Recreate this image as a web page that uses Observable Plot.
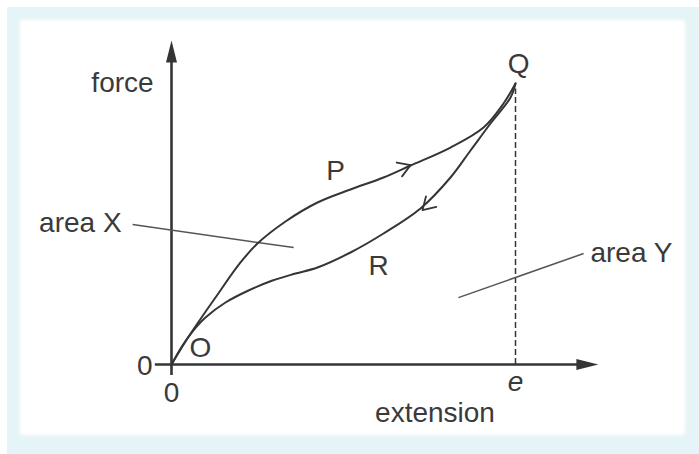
<!DOCTYPE html>
<html>
<head>
<meta charset="utf-8">
<script src="https://cdn.jsdelivr.net/npm/d3@7"></script>
<script src="https://cdn.jsdelivr.net/npm/@observablehq/plot@0.6"></script>
<style>
  html, body { margin: 0; padding: 0; background: #ffffff; }
  #frame { position: absolute; left: 7px; top: 7px; width: 692px; height: 447px; background: #e5f4f6; }
  #panel { position: absolute; left: 22px; top: 22px; width: 661px; height: 411px; background: #ffffff; box-shadow: 0 0 4px 2px #ffffff; }
  #chart { position: absolute; left: 0; top: 0; }
  #chart svg { overflow: visible; }
</style>
</head>
<body>
<div id="frame"></div>
<div id="panel"></div>
<div id="chart"></div>
<script>
// Loading curve O -> P -> Q (extension, force; Q = (100, 100))
const loadX = [0, 4.07, 8.14, 12.79, 20.06, 25.0, 33.14, 42.44, 52.03, 61.63, 69.48, 81.1, 90.7, 96.51, 100];
const loadF = [0, 8.19, 15.66, 23.84, 36.3, 43.06, 50.89, 57.65, 62.28, 66.55, 70.82, 77.22, 84.34, 92.88, 100];
// Unloading curve Q -> R -> O
const unloadX = [100, 98.55, 92.73, 86.92, 81.1, 72.38, 61.63, 52.03, 42.44, 36.05, 29.36, 22.38, 15.7, 9.88, 6.1, 3.2, 0];
const unloadF = [100, 95.02, 85.77, 76.16, 66.55, 55.52, 46.62, 39.86, 34.52, 32.38, 29.89, 26.33, 22.06, 16.73, 11.74, 6.76, 0];
// Text labels
const axisLabels = ["force", "extension"];
const tickLabels = ["0", "0", "e"];
const pointLabels = ["O", "P", "Q", "R"];
const areaLabels = ["area X", "area Y"];

const loading = loadX.map((x, i) => ({x, f: loadF[i]}));
const unloading = unloadX.map((x, i) => ({x, f: unloadF[i]}));

const ink = "#353535";
const font = "'Liberation Sans', Arial, sans-serif";
// filled axis arrowhead (tip at origin, pointing up)
const headUp = { draw(ctx) { ctx.moveTo(0, 0); ctx.lineTo(-5.5, 22); ctx.lineTo(5.5, 22); ctx.closePath(); } };
// open chevron for direction arrows on the curves (tip at origin, pointing up)
const chevron = { draw(ctx) { ctx.moveTo(-7.4, 12); ctx.lineTo(0, 0); ctx.lineTo(7.4, 12); } };

const txt = (t, x, y, extra = {}) => Plot.text([t], {text: d => d, x, y, fill: "#3a3a3a", fontSize: 28, ...extra});

const chart = Plot.plot({
  width: 699,
  height: 454,
  marginLeft: 171,
  marginRight: 184,
  marginTop: 83,
  marginBottom: 90,
  x: {domain: [0, 100], axis: null},
  y: {domain: [0, 100], axis: null},
  style: {background: "transparent", fontFamily: font, overflow: "visible"},
  marks: [
    // axes
    Plot.ruleY([0], {x1: -4.7, x2: 119, stroke: ink, strokeWidth: 2.6}),
    Plot.ruleX([0], {y1: -3.9, y2: 108, stroke: ink, strokeWidth: 2.6}),
    Plot.dot([0], {x: 0, y: 115.3, symbol: headUp, fill: ink, stroke: "none", r: 5}),
    Plot.dot([0], {x: 124.1, y: 0, symbol: headUp, fill: ink, stroke: "none", r: 5, rotate: 90}),
    // dashed line at e
    Plot.ruleX([100], {y1: 0, y2: 98, stroke: ink, strokeWidth: 1.5, strokeDasharray: "6,3"}),
    // leader lines
    Plot.link([0], {x1: -11.3, y1: 49.8, x2: 35.5, y2: 41.6, stroke: "#555", strokeWidth: 1.5}),
    Plot.link([0], {x1: 83.4, y1: 23.8, x2: 119.8, y2: 39.5, stroke: "#555", strokeWidth: 1.5}),
    // curves
    Plot.line(loading, {x: "x", y: "f", curve: "catmull-rom", stroke: ink, strokeWidth: 2}),
    Plot.line(unloading, {x: "x", y: "f", curve: "catmull-rom", stroke: ink, strokeWidth: 2}),
    // direction arrows
    Plot.vector([0], {x: 69.5, y: 70.95, length: 1, rotate: 69, shape: chevron, anchor: "start", stroke: ink, strokeWidth: 1.8, fill: "none"}),
    Plot.vector([0], {x: 72.97, y: 54.98, length: 1, rotate: 226, shape: chevron, anchor: "start", stroke: ink, strokeWidth: 1.8, fill: "none"}),
    // labels
    txt(axisLabels[0], -5.2, 100, {textAnchor: "end"}),
    txt(axisLabels[1], 76.6, -17.1),
    txt(tickLabels[0], -7.8, -0.7),
    txt(tickLabels[1], 0, -10.3),
    txt(tickLabels[2], 100, -6.4, {fontStyle: "italic"}),
    txt(pointLabels[0], 8.4, 5.7),
    txt(pointLabels[1], 47.7, 69.0),
    txt(pointLabels[2], 100.9, 107.1),
    txt(pointLabels[3], 60.2, 35.2),
    txt(areaLabels[0], -26.5, 50.5),
    txt(areaLabels[1], 133.7, 39.5)
  ]
});
document.getElementById("chart").append(chart);
</script>
</body>
</html>
